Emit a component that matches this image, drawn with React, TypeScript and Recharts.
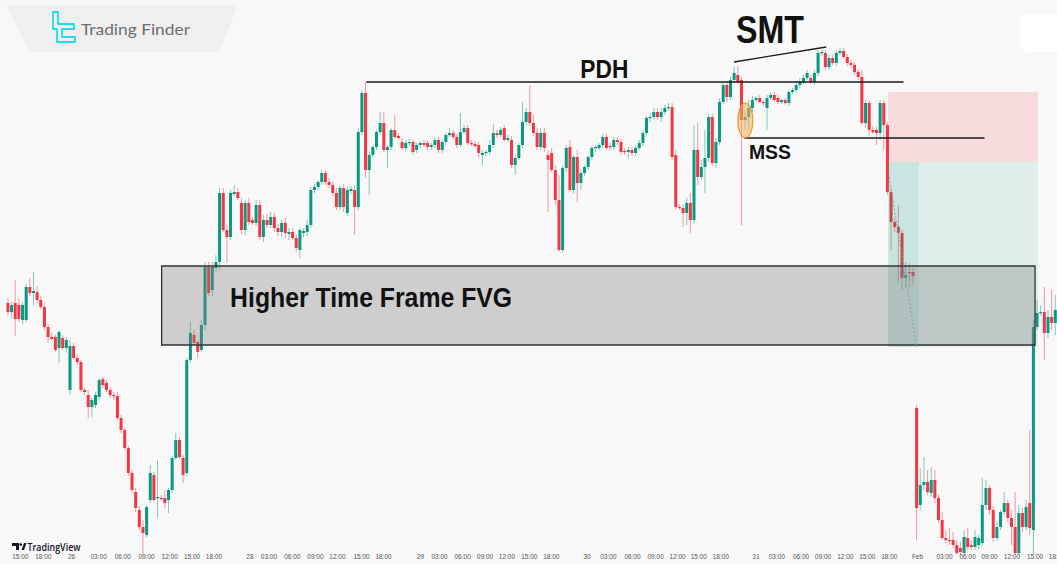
import React from "react";
import {
  ComposedChart,
  Bar,
  XAxis,
  YAxis,
  ReferenceArea,
  ReferenceLine,
  ReferenceDot,
} from "recharts";

// [open, high, low, close]
type C = [number, number, number, number];

const segDay26: C[] = [
  [297, 302, 284, 288], [288, 298, 282, 295], [297, 320, 264, 281], [295, 302, 278, 281],
  [280, 298, 276, 295], [280, 316, 278, 313], [313, 322, 304, 307], [307, 328, 295, 309],
  [308, 314, 297, 300], [300, 304, 291, 293], [293, 297, 270, 273], [273, 276, 257, 263],
  [263, 267, 260, 261], [263, 265, 248, 250], [252, 270, 237, 268], [262, 265, 250, 252],
  [252, 263, 248, 260], [210, 260, 205, 254], [254, 257, 240, 242], [242, 245, 235, 238],
  [238, 240, 208, 210], [210, 212, 205, 208], [205, 210, 182, 193], [193, 202, 183, 200],
  [195, 208, 192, 205], [203, 222, 200, 220], [221, 223, 212, 215], [217, 220, 208, 210],
  [210, 213, 202, 205], [205, 208, 200, 204], [204, 208, 180, 182], [182, 185, 167, 170],
  [170, 172, 150, 152], [152, 154, 124, 127], [127, 130, 107, 110], [108, 112, 88, 92],
  [90, 94, 70, 73], [73, 80, 45, 67], [65, 95, 63, 93], [100, 135, 97, 127],
  [125, 128, 98, 100], [102, 140, 82, 103], [102, 105, 100, 101], [102, 110, 92, 97],
  [100, 112, 87, 110], [110, 144, 107, 142], [142, 167, 140, 160], [160, 163, 141, 143],
  [142, 145, 117, 125], [127, 242, 124, 240], [240, 278, 237, 267], [265, 270, 255, 257],
  [258, 260, 242, 248], [250, 280, 248, 275], [275, 338, 270, 333], [333, 338, 304, 307],
  [310, 338, 304, 333], [332, 345, 328, 338],
];

const segDay28: C[] = [
  [338, 412, 330, 407], [407, 412, 368, 370], [370, 375, 337, 363], [363, 410, 360, 407],
  [406, 415, 404, 408], [408, 412, 400, 402], [397, 402, 366, 370], [370, 400, 365, 397],
  [397, 402, 375, 378], [380, 383, 375, 377], [377, 400, 374, 395], [395, 400, 360, 363],
  [363, 385, 358, 380], [380, 386, 372, 375], [375, 388, 372, 383], [383, 387, 368, 372],
  [372, 376, 364, 368], [368, 380, 363, 377], [377, 382, 362, 367], [366, 372, 360, 368],
  [368, 372, 360, 362], [362, 366, 348, 352], [350, 372, 342, 370], [367, 372, 363, 369],
  [368, 380, 364, 375], [375, 413, 372, 410], [410, 416, 407, 413], [413, 420, 410, 418],
  [418, 430, 415, 427], [427, 430, 415, 418], [418, 422, 412, 415], [415, 418, 404, 407],
  [407, 412, 390, 393], [393, 415, 390, 412], [412, 416, 388, 393], [387, 414, 384, 410],
  [409, 414, 406, 411], [410, 415, 365, 393], [393, 472, 390, 468], [468, 510, 465, 507],
  [507, 518, 422, 430], [430, 448, 405, 445], [445, 455, 442, 453], [453, 470, 450, 468],
  [468, 488, 465, 477], [477, 488, 448, 450], [450, 455, 432, 453], [453, 472, 450, 470],
  [470, 485, 461, 463], [464, 467, 460, 462], [458, 462, 450, 452], [452, 460, 449, 457],
  [457, 461, 454, 458], [458, 461, 445, 448], [450, 457, 447, 455], [455, 459, 452, 457],
  [457, 460, 453, 455], [457, 460, 450, 453], [453, 457, 450, 455], [455, 463, 452, 460],
  [460, 463, 447, 450], [450, 460, 447, 458], [458, 467, 455, 465], [465, 472, 463, 467],
  [467, 470, 461, 463], [463, 466, 452, 455], [455, 487, 453, 468], [468, 475, 466, 472],
  [472, 475, 455, 457], [457, 460, 454, 456], [456, 459, 452, 454], [455, 458, 442, 447],
  [445, 450, 435, 447], [447, 450, 444, 448], [448, 460, 445, 455], [455, 476, 452, 467],
  [467, 470, 462, 465], [465, 473, 463, 470], [472, 475, 458, 460], [460, 465, 458, 462],
  [460, 464, 432, 435], [435, 445, 425, 442], [442, 457, 440, 455], [455, 498, 452, 478],
  [478, 492, 475, 488], [488, 515, 474, 477], [477, 485, 464, 467], [467, 472, 450, 453],
  [453, 472, 450, 467], [467, 472, 448, 452], [445, 450, 388, 440], [447, 452, 428, 430],
  [430, 435, 395, 400],
];

const segDay30: C[] = [
  [400, 425, 348, 350], [350, 435, 347, 432], [432, 455, 428, 452], [453, 460, 408, 410],
  [410, 445, 407, 443], [443, 450, 398, 417], [417, 430, 410, 427], [427, 435, 424, 433],
  [433, 445, 430, 443], [443, 454, 440, 452], [452, 455, 448, 453], [452, 457, 450, 455],
  [455, 466, 452, 463], [463, 466, 450, 452], [454, 457, 450, 453], [453, 463, 450, 460],
  [460, 463, 455, 458], [458, 461, 445, 448], [449, 452, 445, 448], [448, 453, 442, 450],
  [450, 453, 444, 447], [447, 455, 444, 452], [452, 460, 450, 457], [457, 470, 454, 467],
  [467, 484, 465, 482], [482, 487, 478, 483], [483, 492, 480, 488], [488, 492, 480, 483],
  [483, 492, 478, 488], [488, 495, 485, 492], [492, 497, 489, 493], [493, 497, 440, 443],
  [445, 450, 390, 393], [393, 396, 390, 392], [392, 395, 373, 387], [387, 402, 375, 397],
  [397, 407, 367, 380], [380, 475, 376, 450], [450, 477, 415, 423], [423, 440, 420, 433],
  [433, 470, 407, 442], [442, 486, 438, 483], [483, 486, 434, 437], [437, 462, 432, 458],
  [458, 502, 455, 498], [498, 517, 496, 515], [515, 518, 498, 503], [503, 524, 500, 520],
  [520, 534, 517, 527], [525, 534, 516, 518],
];

const segDay31: C[] = [
  [520, 523, 375, 480], [480, 490, 470, 483], [483, 500, 470, 492], [492, 504, 488, 500],
  [500, 504, 498, 502], [502, 505, 497, 498], [498, 500, 494, 497], [492, 505, 470, 502],
  [502, 508, 500, 505], [505, 508, 498, 500], [502, 505, 496, 498], [498, 501, 496, 500],
  [500, 502, 495, 497], [497, 510, 494, 508], [508, 512, 506, 510], [510, 518, 508, 515],
  [515, 522, 512, 518], [518, 525, 516, 522], [522, 530, 520, 527], [522, 525, 516, 518],
  [518, 530, 515, 527], [527, 550, 524, 547], [547, 550, 544, 548], [547, 550, 530, 533],
  [533, 545, 530, 542], [542, 545, 535, 537], [537, 550, 534, 547], [547, 552, 545, 549],
  [549, 552, 541, 543], [543, 546, 534, 537], [537, 540, 532, 535], [535, 538, 525, 528],
  [528, 531, 520, 523], [523, 530, 475, 477], [477, 500, 472, 497], [497, 500, 465, 470],
  [470, 474, 466, 468], [470, 473, 455, 467], [467, 500, 460, 497], [497, 500, 450, 475],
  [475, 478, 405, 408], [408, 412, 350, 378], [378, 382, 368, 373], [373, 395, 318, 367],
  [367, 370, 310, 322], [322, 338, 312, 325], [328, 337, 313, 327], [328, 332, 315, 324],
];

const segFeb: C[] = [
  [192, 195, 60, 92], [95, 132, 90, 115], [115, 143, 110, 118], [118, 130, 105, 108],
  [107, 133, 103, 120], [120, 130, 97, 102], [102, 105, 77, 80], [80, 88, 60, 62],
  [62, 70, 57, 60], [60, 72, 55, 59], [60, 68, 52, 55], [55, 60, 45, 47],
  [52, 58, 44, 48], [47, 70, 45, 63], [62, 72, 50, 53], [55, 60, 50, 53],
  [53, 70, 50, 63], [55, 65, 50, 62], [57, 122, 54, 95], [95, 120, 90, 112],
  [112, 115, 85, 90], [90, 94, 58, 62], [62, 78, 59, 73], [73, 90, 70, 88],
  [88, 108, 85, 97], [97, 100, 78, 82], [82, 90, 55, 73], [73, 108, 45, 47],
  [47, 95, 45, 87], [87, 92, 68, 73], [73, 100, 70, 93], [97, 170, 65, 72],
  [70, 280, 45, 273], [273, 300, 270, 287], [287, 295, 284, 288], [288, 313, 240, 267],
  [267, 290, 262, 283], [283, 310, 270, 277], [277, 305, 265, 290],
];

const TICK_TEXT = [
  "15:00", "18:00", "26", "03:00", "06:00", "09:00", "12:00", "15:00", "18:00",
  "28", "03:00", "06:00", "09:00", "12:00", "15:00", "18:00",
  "29", "03:00", "06:00", "09:00", "12:00", "15:00", "18:00",
  "30", "03:00", "06:00", "09:00", "12:00", "15:00", "18:00",
  "31", "03:00", "06:00", "09:00", "12:00", "15:00", "18:00",
  "Feb", "03:00", "06:00", "09:00", "12:00", "15:00", "18:00",
];
// tick positions in candle-index units
const TICK_POS = [
  3.9, 10.2, 17.9, 25.3, 31.9, 38.4, 44.7, 50.8, 56.8,
  66.6, 71.8, 78.2, 84.5, 90.5, 97.1, 103.1,
  113.2, 118.4, 124.7, 130.8, 136.8, 142.9, 148.9,
  158.7, 164.5, 171.1, 177.4, 183.4, 189.2, 195.2,
  204.8, 210.5, 217.1, 223.1, 229.2, 235.2, 241.2,
  248.9, 256.3, 262.6, 268.6, 274.7, 281.0, 287.0,
];

const ALL: C[] = [...segDay26, ...segDay28, ...segDay30, ...segDay31, ...segFeb];
const N = ALL.length;
const data = ALL.map((c, i) => ({
  i,
  open: c[0],
  high: c[1],
  low: c[2],
  close: c[3],
  range: [c[2], c[1]],
}));

const GREEN = "#089981";
const RED = "#f23645";
const FONT = "'Liberation Sans', Arial, Helvetica, sans-serif";

const Candle = (props: any) => {
  const { x, y, width, height, payload } = props;
  if (!payload || x == null) return null;
  const { open, high, low, close } = payload;
  const top = Math.min(y, y + height);
  const h = Math.abs(height);
  const k = h / Math.max(high - low, 1e-6);
  const yO = top + (high - open) * k;
  const yC = top + (high - close) * k;
  const col = close >= open ? GREEN : RED;
  const cx = x + width / 2;
  const bt = Math.min(yO, yC);
  const bh = Math.max(Math.abs(yO - yC), 1.2);
  return (
    <g>
      <line x1={cx} x2={cx} y1={top} y2={top + h} stroke={col} strokeOpacity={0.5} strokeWidth={1} />
      <rect x={x} y={bt} width={width} height={bh} fill={col} />
    </g>
  );
};

const Tick = (p: any) => {
  const idx = TICK_POS.indexOf(p.payload.value);
  return (
    <text x={p.x} y={559} textAnchor="middle" fontSize={6.5} fill="#555" fontFamily={FONT}>
      {TICK_TEXT[idx]}
    </text>
  );
};

const textShape =
  (txt: string, size: number, len: number, anchor: string = "middle") =>
  (p: any) =>
    (
      <text
        x={p.cx}
        y={p.cy}
        textAnchor={anchor}
        fontSize={size}
        fontWeight={700}
        fill="#111"
        fontFamily={FONT}
        textLength={len}
        lengthAdjust="spacingAndGlyphs"
      >
        {txt}
      </text>
    );

const ellipseShape = (p: any) => (
  <ellipse cx={p.cx} cy={p.cy} rx={7.5} ry={17.5} fill="#f2b45c" fillOpacity={0.55} stroke="#e49a2c" strokeWidth={1.2} />
);

export default function App() {
  return (
    <div
      style={{
        position: "absolute",
        left: 0,
        top: 0,
        width: 1057,
        height: 564,
        background: "#f8f8f8",
        overflow: "hidden",
      }}
    >
      <ComposedChart
        width={1057}
        height={564}
        data={data}
        margin={{ top: 0, right: 0, bottom: 0, left: 6 }}
        barCategoryGap="12%"
      >
        <XAxis xAxisId="c" dataKey="i" hide />
        <XAxis
          xAxisId="n"
          type="number"
          domain={[-0.5, N - 0.5]}
          allowDataOverflow
          ticks={TICK_POS}
          interval={0}
          height={1}
          axisLine={false}
          tickLine={false}
          tick={<Tick />}
        />
        <YAxis hide domain={[37, 600]} allowDataOverflow />
        <Bar xAxisId="c" dataKey="range" shape={<Candle />} isAnimationActive={false} />

        {/* position tool zones */}
        <ReferenceArea xAxisId="n" x1={240.9} x2={281.8} y1={438} y2={508} fill={RED} fillOpacity={0.15} stroke="none" zIndex={1500} />
        <ReferenceArea xAxisId="n" x1={240.9} x2={281.8} y1={253} y2={438} fill={GREEN} fillOpacity={0.1} stroke="none" zIndex={1500} />
        <ReferenceArea xAxisId="n" x1={240.9} x2={249.2} y1={253} y2={438} fill={GREEN} fillOpacity={0.1} stroke="none" zIndex={1500} />

        {/* higher time frame FVG box */}
        <ReferenceArea xAxisId="n" x1={42.5} x2={281} y1={255} y2={334} fill="#808080" fillOpacity={0.35} stroke="#333" strokeWidth={1.3} zIndex={1500} />

        <ReferenceLine xAxisId="n" segment={[{ x: 241.2, y: 423 }, { x: 248.6, y: 255 }]} stroke="#8f9d9a" strokeDasharray="2 2" strokeWidth={1} zIndex={1500} />

        {/* PDH, SMT, MSS lines */}
        <ReferenceLine xAxisId="n" segment={[{ x: 98.4, y: 518 }, { x: 245.1, y: 518 }]} stroke="#1a1a1a" strokeWidth={1.4} zIndex={1500} />
        <ReferenceLine xAxisId="n" segment={[{ x: 198.8, y: 538 }, { x: 224.0, y: 553 }]} stroke="#1a1a1a" strokeWidth={1.3} zIndex={1500} />
        <ReferenceLine xAxisId="n" segment={[{ x: 201.6, y: 462 }, { x: 267.2, y: 462 }]} stroke="#1a1a1a" strokeWidth={1.4} zIndex={1500} />

        <ReferenceDot xAxisId="n" x={201.9} y={479.5} r={8} shape={ellipseShape} zIndex={1500} />

        <ReferenceDot xAxisId="n" x={163.4} y={522} r={1} shape={textShape("PDH", 26, 48)} zIndex={1600} />
        <ReferenceDot xAxisId="n" x={208.6} y={557} r={1} shape={textShape("SMT", 38, 68)} zIndex={1600} />
        <ReferenceDot xAxisId="n" x={208.6} y={441} r={1} shape={textShape("MSS", 20, 42)} zIndex={1600} />
        <ReferenceDot xAxisId="n" x={61.2} y={293} r={1} shape={textShape("Higher Time Frame FVG", 28, 282, "start")} zIndex={1600} />
      </ComposedChart>

      <svg
        width={1057}
        height={564}
        style={{ position: "absolute", left: 0, top: 0, pointerEvents: "none" }}
      >
        <path d="M6 5 L238 5 L221 47 Q219 52 213 52 L35 52 Q29 52 27 47 Z" fill="#efefef" />
        <path
          d="M53 12 H58 V24 H74 V29 H62 V37 H75 V42 H57 V29 H53 Z"
          fill="none"
          stroke="#22dbe9"
          strokeWidth={1.8}
          strokeLinejoin="round"
        />
        <text x={81} y={35} fontSize={15} fill="#6e6e6e" fontFamily="Lato, 'Open Sans', sans-serif" textLength={109} lengthAdjust="spacingAndGlyphs">
          Trading Finder
        </text>
        <rect x={1020} y={14} width={50} height={38} rx={9} fill="#ffffff" />
        <path d="M12 543 H19 V550 H16 V546 H12 Z" fill="#131722" />
        <circle cx={20.8} cy={544.6} r={1.3} fill="#131722" />
        <path d="M21.5 550 L24 543 H26.5 L24 550 Z" fill="#131722" />
        <text x={27.5} y={550.5} fontSize={10} fontWeight={600} fill="#131722" fontFamily="'Open Sans', sans-serif" textLength={53} lengthAdjust="spacingAndGlyphs">
          TradingView
        </text>
      </svg>
    </div>
  );
}
